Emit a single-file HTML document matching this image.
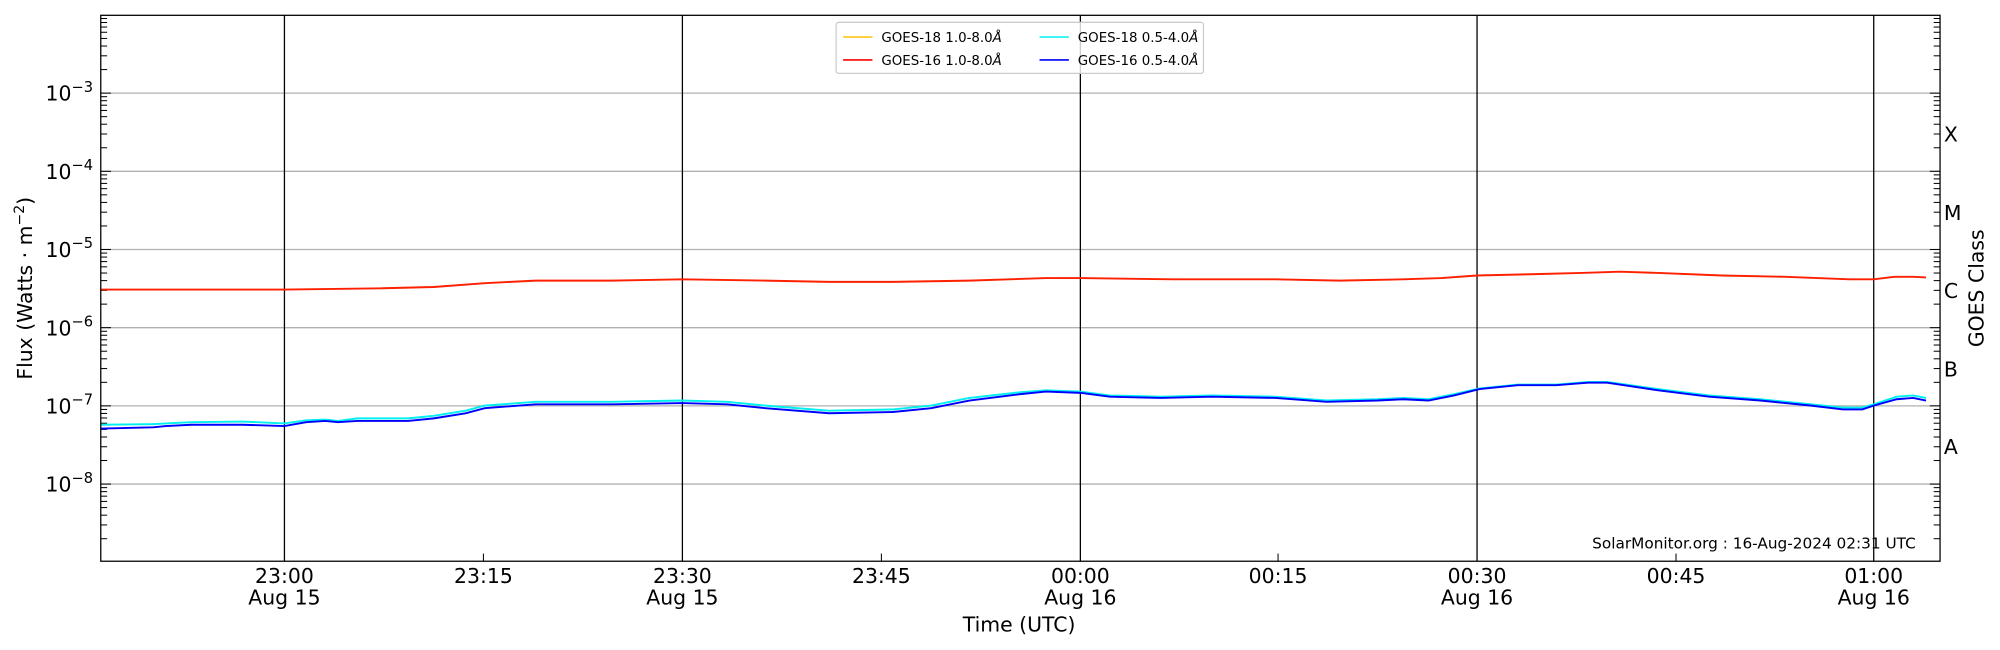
<!DOCTYPE html>
<html><head><meta charset="utf-8"><style>
html,body{margin:0;padding:0;background:#fff;}
svg{display:block;}
text{font-family:"DejaVu Sans","Liberation Sans",sans-serif;fill:#000;}
</style></head><body>
<svg width="2000" height="650" viewBox="0 0 1568 509.6" preserveAspectRatio="none" xmlns="http://www.w3.org/2000/svg">
<rect x="0" y="0" width="1568" height="510" fill="#fff"/>
<g stroke="#b0b0b0" stroke-width="1">
<line x1="79" x2="1521" y1="73" y2="73"/>
<line x1="79" x2="1521" y1="134.3" y2="134.3"/>
<line x1="79" x2="1521" y1="195.6" y2="195.6"/>
<line x1="79" x2="1521" y1="256.9" y2="256.9"/>
<line x1="79" x2="1521" y1="318.2" y2="318.2"/>
<line x1="79" x2="1521" y1="379.5" y2="379.5"/>
</g>
<g stroke="#000" stroke-width="1">
<line x1="223" x2="223" y1="12" y2="440"/>
<line x1="535" x2="535" y1="12" y2="440"/>
<line x1="847" x2="847" y1="12" y2="440"/>
<line x1="1158" x2="1158" y1="12" y2="440"/>
<line x1="1469" x2="1469" y1="12" y2="440"/>
</g>
<g id="ticks" stroke="#000" stroke-width="0.8"></g>
<polyline fill="none" stroke="#ff2000" stroke-width="1.5" points="79,227 150,227 223,227 300,226 340,225 380,222 420,220 480,220 535,219 600,220 650,221 700,221 760,220 820,218 847,218 920,219 1000,219 1050,220 1100,219 1130,218 1158,216 1200,215 1240,214 1270,213 1300,214 1350,216 1400,217 1450,219 1469,219 1485,217 1500,217 1510,217.5"/>
<polyline fill="none" stroke="#00f0f0" stroke-width="1.5" points="79,333 120,332.5 130,332 150,331 190,330.5 223,332 240,329.5 255,329 265,330 280,328 320,328 340,326 365,322 380,318 420,315 480,315 535,314 570,315 600,318 650,322 700,321 730,318 760,312 800,307.5 820,306 847,307 870,310 910,311 950,310 1000,311 1040,314 1080,313 1100,312 1120,313 1140,309 1160,304.5 1190,301.5 1220,301.5 1245,299.5 1260,299.5 1300,305 1340,310 1380,313 1420,317 1445,319.5 1460,319.5 1469,317 1487,311 1500,310 1510,312"/>
<polyline fill="none" stroke="#0000ff" stroke-width="1.5" points="79,336 120,335 130,334 150,333 190,333 223,334 240,331 255,330 265,331 280,330 320,330 340,328 365,324 380,320 420,317 480,317 535,316 570,317 600,320 650,324 700,323 730,320 760,314 800,309 820,307 847,308 870,311 910,312 950,311 1000,312 1040,315 1080,314 1100,313 1120,314 1140,310 1160,305 1190,302 1220,302 1245,300 1260,300 1300,306 1340,311 1380,314 1420,318 1445,321 1460,321 1469,318 1487,313 1500,312 1510,314"/>
<rect x="79" y="12" width="1442" height="428" fill="none" stroke="#000" stroke-width="1"/>
<g font-size="16" text-anchor="end">
<text x="73" y="79">10<tspan dy="-7" font-size="11.5">−3</tspan></text>
<text x="73" y="140.3">10<tspan dy="-7" font-size="11.5">−4</tspan></text>
<text x="73" y="201.6">10<tspan dy="-7" font-size="11.5">−5</tspan></text>
<text x="73" y="262.9">10<tspan dy="-7" font-size="11.5">−6</tspan></text>
<text x="73" y="324.2">10<tspan dy="-7" font-size="11.5">−7</tspan></text>
<text x="73" y="385.5">10<tspan dy="-7" font-size="11.5">−8</tspan></text>
</g>
<g font-size="16">
<text x="1524" y="111">X</text>
<text x="1524" y="172.5">M</text>
<text x="1524" y="233.5">C</text>
<text x="1524" y="295">B</text>
<text x="1524" y="356">A</text>
</g>
<text font-size="16" text-anchor="middle" transform="translate(1555,226) rotate(-90)">GOES Class</text>
<text font-size="16" text-anchor="middle" transform="translate(25,226) rotate(-90)">Flux (Watts · m<tspan dy="-6" font-size="11">−2</tspan><tspan dy="6">)</tspan></text>
<g font-size="16" text-anchor="middle">
<text x="223" y="457">23:00</text><text x="223" y="474">Aug 15</text>
<text x="379" y="457">23:15</text>
<text x="535" y="457">23:30</text><text x="535" y="474">Aug 15</text>
<text x="691" y="457">23:45</text>
<text x="847" y="457">00:00</text><text x="847" y="474">Aug 16</text>
<text x="1002" y="457">00:15</text>
<text x="1158" y="457">00:30</text><text x="1158" y="474">Aug 16</text>
<text x="1314" y="457">00:45</text>
<text x="1469" y="457">01:00</text><text x="1469" y="474">Aug 16</text>
<text x="799" y="495">Time (UTC)</text>
</g>
<text x="1502" y="430" font-size="12" text-anchor="end">SolarMonitor.org : 16-Aug-2024 02:31 UTC</text>
<rect x="655.5" y="17.5" width="288" height="40" rx="2" fill="#fff" fill-opacity="0.8" stroke="#ccc" stroke-width="1"/>
<g stroke-width="1.2">
<line x1="661" x2="684" y1="29" y2="29" stroke="#ffc000"/>
<line x1="661" x2="684" y1="47" y2="47" stroke="#ff0000"/>
<line x1="815" x2="838" y1="29" y2="29" stroke="#00f0f0"/>
<line x1="815" x2="838" y1="47" y2="47" stroke="#0000ff"/>
</g>
<g font-size="10.5">
<text x="691" y="33">GOES-18 1.0-8.0<tspan font-style="italic">Å</tspan></text>
<text x="691" y="51">GOES-16 1.0-8.0<tspan font-style="italic">Å</tspan></text>
<text x="845" y="33">GOES-18 0.5-4.0<tspan font-style="italic">Å</tspan></text>
<text x="845" y="51">GOES-16 0.5-4.0<tspan font-style="italic">Å</tspan></text>
</g>
</svg>
<script>
(function(){
var g=document.getElementById('ticks'),ns='http://www.w3.org/2000/svg',d=61.3,top0=73+d;
function L(x1,y1,x2,y2){var l=document.createElementNS(ns,'line');l.setAttribute('x1',x1);l.setAttribute('y1',y1);l.setAttribute('x2',x2);l.setAttribute('y2',y2);g.appendChild(l);}
for(var e=-9;e<=-2;e++){var base=73+(-3-e)*d;
 if(base>=12&&base<=440){L(79,base,87,base);L(1513,base,1521,base);}
 for(var k=2;k<=9;k++){var y=base-Math.log10(k)*d;if(y>=12&&y<=440){L(79,y,84,y);L(1516,y,1521,y);}}}
[379,691,1002,1314].forEach(function(x){L(x,440,x,434);});
})();
</script>
</body></html>
